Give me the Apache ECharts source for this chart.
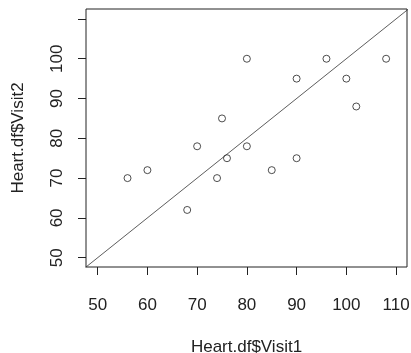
<!DOCTYPE html>
<html>
<head>
<meta charset="utf-8">
<script src="https://cdn.jsdelivr.net/npm/echarts@6/dist/echarts.min.js"></script>
<style>
  html, body { margin: 0; padding: 0; background: #fff; }
  #chart1 { width: 411px; height: 353px; }
</style>
</head>
<body>
<div id="chart1"></div>
<script>
// Heart.df: Visit1 vs Visit2
var visit1 = [56, 60, 68, 70, 74, 75, 76, 80, 80, 85, 90, 90, 96, 100, 102, 108];
var visit2 = [70, 72, 62, 78, 70, 85, 75, 100, 78, 72, 95, 75, 100, 95, 88, 100];
var xTicks = [50, 60, 70, 80, 90, 100, 110];
var yTicks = [50, 60, 70, 80, 90, 100, 110];
var yLabels = [50, 60, 70, 80, 90, 100];
var ablineX = [40, 120]; // y = x reference line

var chartDom = document.getElementById('chart1');
var myChart = echarts.init(chartDom);
var option;

var points = visit1.map(function (v, i) { return [v, visit2[i]]; });
var abline = ablineX.map(function (v) { return [v, v]; });

var font = 'Liberation Sans, Arial, sans-serif';

option = {
  animation: false,
  backgroundColor: '#fff',
  grid: {
    left: 86,
    right: 4,
    top: 9,
    bottom: 86,
    outerBoundsMode: 'none',
    show: true,
    borderColor: '#222',
    borderWidth: 1
  },
  xAxis: {
    type: 'value',
    min: 47.65,
    max: 112.2,
    name: 'Heart.df$Visit1',
    nameLocation: 'middle',
    nameGap: 72,
    nameTextStyle: { color: '#222', fontSize: 17, fontFamily: font },
    axisLine: { show: false },
    splitLine: { show: false },
    axisTick: {
      show: true,
      length: 8,
      customValues: xTicks,
      lineStyle: { color: '#222' }
    },
    axisLabel: {
      margin: 30,
      color: '#222',
      fontSize: 17,
      fontFamily: font,
      customValues: xTicks
    }
  },
  yAxis: {
    type: 'value',
    min: 47.66,
    max: 112.5,
    name: 'Heart.df$Visit2',
    nameLocation: 'middle',
    nameGap: 59,
    nameTextStyle: { color: '#222', fontSize: 17, fontFamily: font },
    axisLine: { show: false },
    splitLine: { show: false },
    axisTick: {
      show: true,
      length: 8,
      customValues: yTicks,
      lineStyle: { color: '#222' }
    },
    axisLabel: {
      rotate: 90,
      margin: 20,
      color: '#222',
      fontSize: 17,
      fontFamily: font,
      customValues: yLabels
    }
  },
  series: [
    {
      type: 'line',
      data: abline,
      symbol: 'none',
      clip: true,
      silent: true,
      lineStyle: { color: '#333', width: 0.8 }
    },
    {
      type: 'scatter',
      data: points,
      symbol: 'circle',
      symbolSize: 7,
      itemStyle: { color: '#fff', borderColor: '#222', borderWidth: 1 }
    }
  ]
};

option && myChart.setOption(option);
window.onresize = function() {
  myChart.resize();
};
</script>
</body>
</html>
